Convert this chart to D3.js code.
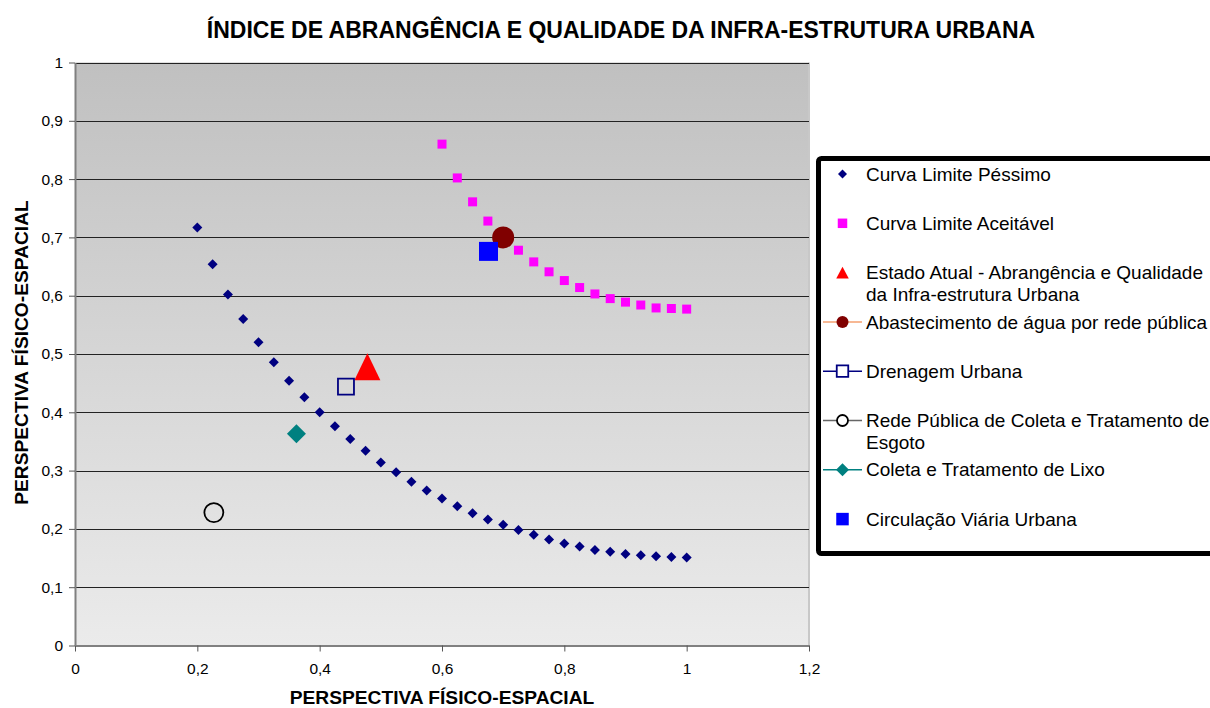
<!DOCTYPE html>
<html>
<head>
<meta charset="utf-8">
<script src="https://cdn.jsdelivr.net/npm/d3@7"></script>
<style>
  html, body { margin: 0; padding: 0; background: #ffffff; overflow: hidden; }
  svg { display: block; }
  text { font-family: "Liberation Sans", Arial, sans-serif; }
</style>
</head>
<body>
<svg id="chart" width="1210" height="708"></svg>
<script>
// ---------------- DATA ----------------
const chartTitle = "ÍNDICE DE ABRANGÊNCIA E QUALIDADE DA INFRA-ESTRUTURA URBANA";
const xAxisTitle = "PERSPECTIVA FÍSICO-ESPACIAL";
const yAxisTitle = "PERSPECTIVA FÍSICO-ESPACIAL";

const xTickValues = [0, 0.2, 0.4, 0.6, 0.8, 1, 1.2];
const xTickLabels = ["0", "0,2", "0,4", "0,6", "0,8", "1", "1,2"];
const yTickValues = [0, 0.1, 0.2, 0.3, 0.4, 0.5, 0.6, 0.7, 0.8, 0.9, 1];
const yTickLabels = ["0", "0,1", "0,2", "0,3", "0,4", "0,5", "0,6", "0,7", "0,8", "0,9", "1"];

// Curva Limite Péssimo
const xPessimo = [0.2, 0.225, 0.25, 0.275, 0.3, 0.325, 0.35, 0.375, 0.4, 0.425, 0.45, 0.475, 0.5,
  0.525, 0.55, 0.575, 0.6, 0.625, 0.65, 0.675, 0.7, 0.725, 0.75, 0.775, 0.8, 0.825, 0.85,
  0.875, 0.9, 0.925, 0.95, 0.975, 1.0];
const yPessimo = [0.717, 0.654, 0.602, 0.560, 0.520, 0.486, 0.454, 0.426, 0.400, 0.376, 0.354, 0.334, 0.314,
  0.297, 0.281, 0.266, 0.252, 0.239, 0.227, 0.216, 0.207, 0.198, 0.190, 0.182, 0.175, 0.170, 0.164,
  0.161, 0.157, 0.155, 0.153, 0.152, 0.151];

// Curva Limite Aceitável
const xAceitavel = [0.6, 0.625, 0.65, 0.675, 0.7, 0.725, 0.75, 0.775, 0.8, 0.825, 0.85,
  0.875, 0.9, 0.925, 0.95, 0.975, 1.0];
const yAceitavel = [0.860, 0.802, 0.761, 0.728, 0.700, 0.678, 0.658, 0.641, 0.626, 0.614, 0.603,
  0.595, 0.589, 0.584, 0.579, 0.578, 0.577];

// Single-point series
const pointNames = [
  "Estado Atual - Abrangência e Qualidade da Infra-estrutura Urbana",
  "Abastecimento de água por rede pública",
  "Drenagem Urbana",
  "Rede Pública de Coleta e Tratamento de Esgoto",
  "Coleta e Tratamento de Lixo",
  "Circulação Viária Urbana"
];
const pointX = [0.478, 0.700, 0.443, 0.227, 0.362, 0.676];
const pointY = [0.478, 0.700, 0.444, 0.228, 0.363, 0.676];

// Legend labels (with line breaks as in the original)
const legendLabels = [
  ["Curva Limite Péssimo"],
  ["Curva Limite Aceitável"],
  ["Estado Atual - Abrangência e Qualidade", "da Infra-estrutura Urbana"],
  ["Abastecimento de água por rede pública"],
  ["Drenagem Urbana"],
  ["Rede Pública de Coleta e Tratamento de", "Esgoto"],
  ["Coleta e Tratamento de Lixo"],
  ["Circulação Viária Urbana"]
];

// ---------------- STYLES ----------------
const styles = [
  { shape: "diamond", w: 10, h: 10, fill: "#000080", stroke: "none", sw: 0, line: null, lg: 9 },
  { shape: "square", w: 9, h: 9, fill: "#ff00ff", stroke: "none", sw: 0, line: null, lg: 9.5 },
  { shape: "triangle", w: 26, h: 27, fill: "#ff0000", stroke: "none", sw: 0, line: null, lg: 12.5 },
  { shape: "circle", w: 22, h: 22, fill: "#800000", stroke: "none", sw: 0, line: "#f4a070", lg: 12 },
  { shape: "square", w: 16, h: 16, fill: "none", stroke: "#000080", sw: 1.8, line: "#000080", lg: 11.5 },
  { shape: "circle", w: 19, h: 19, fill: "none", stroke: "#000000", sw: 1.8, line: "#666666", lg: 11 },
  { shape: "diamond", w: 19, h: 19, fill: "#008080", stroke: "none", sw: 0, line: "#008080", lg: 13 },
  { shape: "square", w: 19, h: 19, fill: "#0000ff", stroke: "none", sw: 0, line: null, lg: 12.5 }
];

function markerPath(shape, w, h) {
  const a = w / 2, b = h / 2;
  if (shape === "diamond") return `M0,${-b}L${a},0L0,${b}L${-a},0Z`;
  if (shape === "square") return `M${-a},${-b}H${a}V${b}H${-a}Z`;
  if (shape === "triangle") return `M0,${-b}L${a},${b}L${-a},${b}Z`;
  if (shape === "circle") {
    const p = d3.path(); p.arc(0, 0, a, 0, 2 * Math.PI); p.closePath(); return p.toString();
  }
}

// ---------------- LAYOUT ----------------
const svg = d3.select("#chart");
const pLeft = 75, pRight = 809, pTop = 62.5, pBottom = 645.5;

const x = d3.scaleLinear().domain([0, 1.2]).range([pLeft, pRight]);
const y = d3.scaleLinear().domain([0, 1]).range([pBottom, pTop]);

svg.append("rect").attr("width", 1210).attr("height", 708).attr("fill", "#ffffff");

const defs = svg.append("defs");
const grad = defs.append("linearGradient").attr("id", "bg").attr("x1", 0).attr("y1", 0).attr("x2", 0).attr("y2", 1);
grad.append("stop").attr("offset", "0%").attr("stop-color", "#c0c0c0");
grad.append("stop").attr("offset", "100%").attr("stop-color", "#ebebeb");

svg.append("rect")
  .attr("x", pLeft).attr("y", pTop)
  .attr("width", pRight - pLeft).attr("height", pBottom - pTop)
  .attr("fill", "url(#bg)");

svg.append("line")
  .attr("x1", pRight).attr("x2", pRight).attr("y1", pTop).attr("y2", pBottom)
  .attr("stroke", "#c8c8c8").attr("stroke-width", 2);

// gridlines
svg.append("g").selectAll("line")
  .data(yTickValues.filter(v => v > 0))
  .join("line")
  .attr("x1", pLeft).attr("x2", pRight)
  .attr("y1", d => Math.round(y(d)) + 0.5).attr("y2", d => Math.round(y(d)) + 0.5)
  .attr("stroke", "#222222").attr("stroke-width", 1);

// axes
const xAxis = d3.axisBottom(x).tickValues(xTickValues)
  .tickFormat((d, i) => xTickLabels[i]).tickSizeOuter(0).tickSizeInner(6).tickPadding(9);
const yAxis = d3.axisLeft(y).tickValues(yTickValues)
  .tickFormat((d, i) => yTickLabels[i]).tickSizeOuter(0).tickSizeInner(6).tickPadding(6);

const gx = svg.append("g").attr("transform", `translate(0,${pBottom})`).call(xAxis);
const gy = svg.append("g").attr("transform", `translate(${pLeft},0)`).call(yAxis);

[gx, gy].forEach(g => {
  g.select(".domain").attr("stroke", "#808080").attr("stroke-width", 2);
  g.selectAll(".tick line").attr("stroke", "#555555").attr("stroke-width", 1);
  g.selectAll(".tick text").attr("fill", "#000000")
    .style("font-family", '"Liberation Sans", Arial, sans-serif').style("font-size", "15.5px");
});
gx.selectAll(".tick text").attr("dy", "0.85em");

// ---------------- MARKS ----------------
const plot = svg.append("g");

function drawSeries(xs, ys, st) {
  plot.append("g").selectAll("path")
    .data(xs.map((d, i) => [d, ys[i]]))
    .join("path")
    .attr("transform", d => `translate(${x(d[0])},${y(d[1])})`)
    .attr("d", markerPath(st.shape, st.w, st.h))
    .attr("fill", st.fill)
    .attr("stroke", st.stroke)
    .attr("stroke-width", st.sw);
}

drawSeries(xPessimo, yPessimo, styles[0]);
drawSeries(xAceitavel, yAceitavel, styles[1]);
pointNames.forEach((n, i) => drawSeries([pointX[i]], [pointY[i]], styles[i + 2]));

// ---------------- TITLES ----------------
svg.append("text")
  .attr("x", 621).attr("y", 38)
  .attr("text-anchor", "middle")
  .style("font-size", "23px").style("font-weight", "bold")
  .text(chartTitle);

svg.append("text")
  .attr("x", (pLeft + pRight) / 2).attr("y", 704)
  .attr("text-anchor", "middle")
  .style("font-size", "19.2px").style("font-weight", "bold")
  .text(xAxisTitle);

svg.append("text")
  .attr("transform", `translate(27.5,352.5) rotate(-90)`)
  .attr("text-anchor", "middle")
  .style("font-size", "19.2px").style("font-weight", "bold")
  .text(yAxisTitle);

// ---------------- LEGEND ----------------
const lg = svg.append("g");
lg.append("rect")
  .attr("x", 818.5).attr("y", 158.5)
  .attr("width", 900).attr("height", 395)
  .attr("rx", 3)
  .attr("fill", "#ffffff")
  .attr("stroke", "#000000").attr("stroke-width", 5);

const legendY0 = 174, legendStep = 49.3, markerX = 842.5, textX = 866;
legendLabels.forEach((lines, i) => {
  const cy = legendY0 + i * legendStep;
  const st = styles[i];
  if (st.line) {
    lg.append("line").attr("x1", 823).attr("x2", 862).attr("y1", cy).attr("y2", cy)
      .attr("stroke", st.line).attr("stroke-width", 1.5);
  }
  const sz = st.lg;
  const h = st.shape === "triangle" ? sz * 0.95 : sz;
  lg.append("path")
    .attr("transform", `translate(${markerX},${cy})`)
    .attr("d", markerPath(st.shape, sz, h))
    .attr("fill", st.fill === "none" ? "#ffffff" : st.fill)
    .attr("stroke", st.stroke)
    .attr("stroke-width", st.sw);
  const t = lg.append("text")
    .attr("x", textX).attr("y", cy)
    .style("font-size", "19px").attr("fill", "#000000");
  lines.forEach((ln, j) => {
    t.append("tspan").attr("x", textX).attr("dy", j === 0 ? "0.35em" : "1.15em").text(ln);
  });
});
</script>
</body>
</html>
